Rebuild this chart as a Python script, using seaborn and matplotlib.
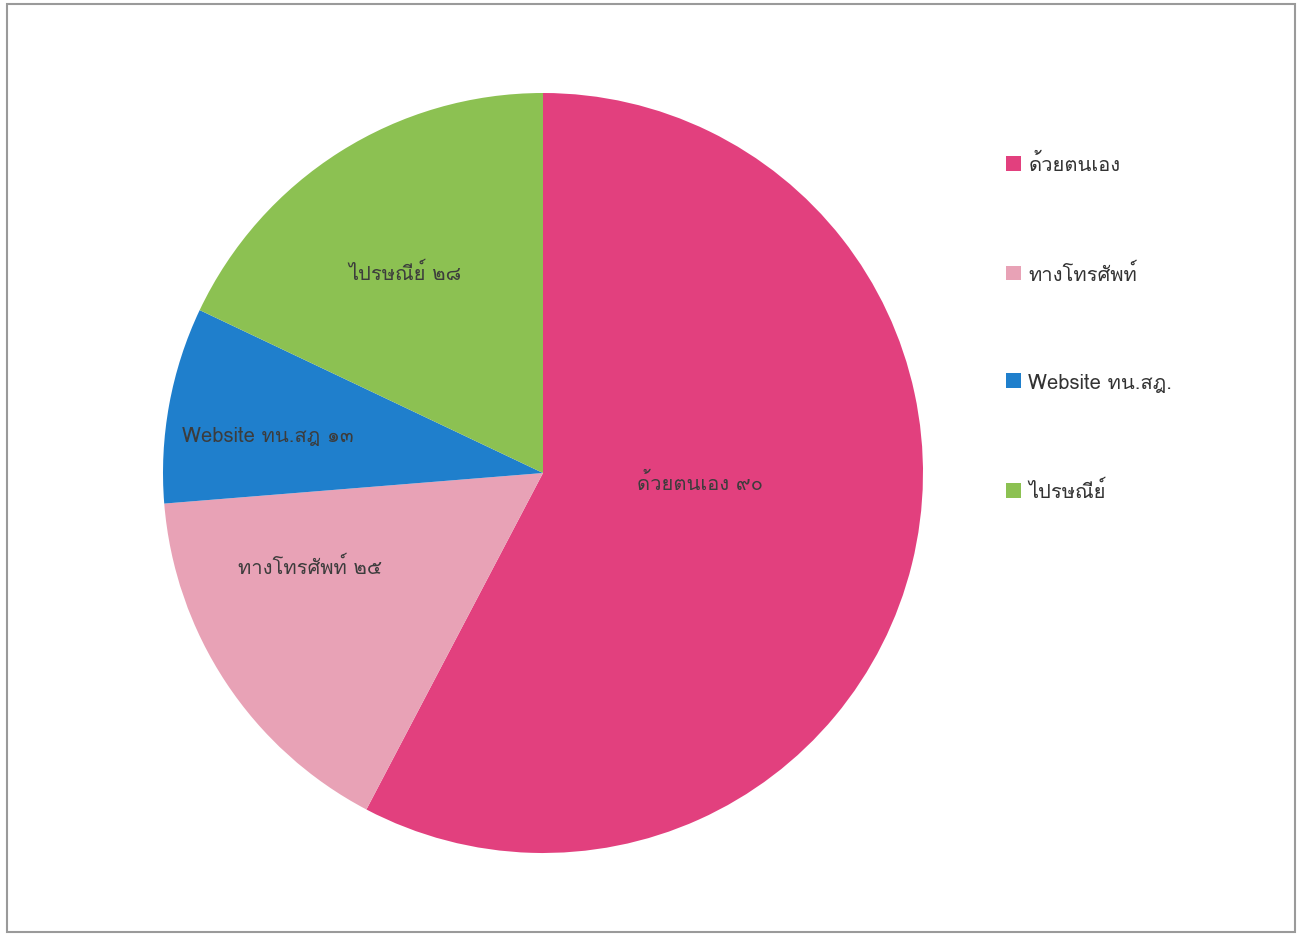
import numpy as np
import matplotlib
matplotlib.use("Agg")
import matplotlib.pyplot as plt
import seaborn as sns
from matplotlib import font_manager as fm
from matplotlib.ft2font import FT2Font
from matplotlib.patches import Rectangle, Patch

categories = ["ด้วยตนเอง", "ทางโทรศัพท์", "Website ทน.สฎ.", "ไปรษณีย์"]
slice_labels = ["ด้วยตนเอง ๙๐", "ทางโทรศัพท์ ๒๕", "Website ทน.สฎ ๑๓", "ไปรษณีย์ ๒๘"]
values = [90, 25, 13, 28]
colors = ["#E2407E", "#E8A2B6", "#1F7FCC", "#8CC152"]
label_radius = [0.415, 0.66, 0.73, 0.64]
label_angle_offset = [10.5, -11.7, 2.7, 2.3]

sns.set_theme(style="white")

# find a font with Thai glyphs
thai_font = None
for f in fm.fontManager.ttflist:
    try:
        cm = FT2Font(f.fname).get_charmap()
        if 0x0E14 in cm and 0x0E49 in cm:
            thai_font = f.name
            break
    except Exception:
        pass
fams = ([thai_font] if thai_font else []) + ["DejaVu Sans"]
plt.rcParams["font.family"] = fams

fig = plt.figure(figsize=(12.99, 9.37), dpi=100)
fig.patch.set_facecolor("white")
fig.add_artist(Rectangle((7 / 1299, 4 / 937), 1288 / 1299, 928 / 937, transform=fig.transFigure,
                         fill=False, edgecolor="#9a9a9a", linewidth=1.5))

ax = fig.add_axes([163 / 1299, 83 / 937, 760 / 1299, 760 / 937])
wedges, _ = ax.pie(values, colors=colors, startangle=90, counterclock=False, radius=1,
                   wedgeprops=dict(linewidth=0))
for w, lab, r, off in zip(wedges, slice_labels, label_radius, label_angle_offset):
    ang = np.deg2rad((w.theta1 + w.theta2) / 2 + off)
    ax.text(r * np.cos(ang), r * np.sin(ang), lab, ha="center", va="center",
            fontsize=14.5, color="#3c3c3c")
ax.set_xlim(-1.0, 1.0)
ax.set_ylim(-1.0, 1.0)
ax.set_aspect("equal")
ax.axis("off")

handles = [Patch(facecolor=c, edgecolor="none") for c in colors]
fig.legend(handles, categories, loc="upper left", bbox_to_anchor=(988 / 1299, 1 - 136 / 937),
           frameon=False, fontsize=14.5, labelspacing=4.4, handlelength=0.75, handleheight=0.75,
           handletextpad=0.35, labelcolor="#333333")

fig.savefig("out.png", dpi=100)
